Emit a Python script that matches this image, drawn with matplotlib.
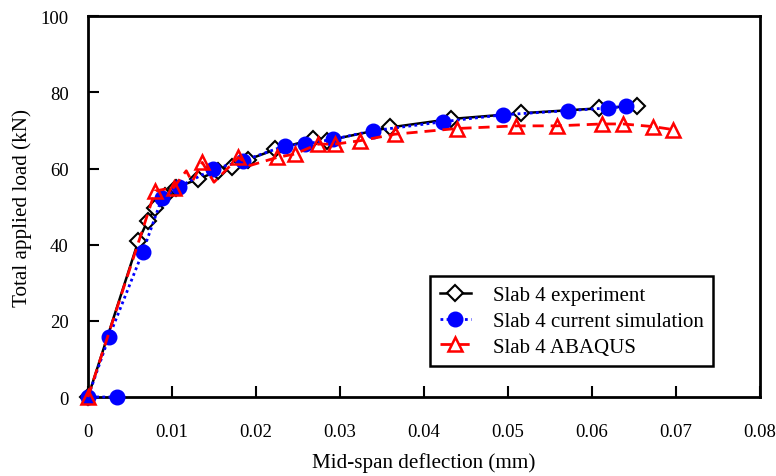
import matplotlib
matplotlib.use("Agg")
import matplotlib.pyplot as plt

# Load-deflection data for Slab 4
exp_x = [0, 0.0060, 0.0071, 0.0080, 0.0092, 0.0105, 0.0131, 0.0155, 0.0172, 0.0190,
         0.0223, 0.0268, 0.0284, 0.0360, 0.0432, 0.0515, 0.0608, 0.0653]
exp_y = [0, 41.0, 46.3, 49.5, 52.8, 55.0, 57.2, 59.4, 60.5, 62.3,
         65.0, 67.7, 67.3, 70.8, 73.0, 74.5, 75.8, 76.5]

sim_x = [0.0035, 0, 0.0025, 0.0065, 0.0088, 0.0108, 0.0149, 0.0184, 0.0235, 0.0258,
         0.0292, 0.0339, 0.0423, 0.0494, 0.0572, 0.0619, 0.0640]
sim_y = [0, 0, 15.8, 38.0, 52.2, 55.2, 59.8, 62.0, 66.0, 66.4,
         67.7, 69.9, 72.3, 74.1, 75.2, 75.9, 76.3]

aba_x = [0, 0.0080, 0.0102, 0.0117, 0.0124, 0.0136, 0.0150, 0.0179, 0.0193, 0.0225,
         0.0246, 0.0274, 0.0294, 0.0324, 0.0365, 0.0439, 0.0510, 0.0558, 0.0612,
         0.0637, 0.0673, 0.0697]
aba_y = [0, 54.1, 55.0, 59.4, 56.5, 61.6, 56.4, 62.9, 60.8, 62.9,
         63.8, 66.4, 66.4, 67.3, 69.0, 70.5, 71.2, 71.2, 71.7,
         71.7, 71.0, 70.2]
aba_marked = [0, 1, 2, 5, 7, 9, 10, 11, 12, 13, 14, 15, 16, 17, 18, 19, 20, 21]

x_ticks = [0, 0.01, 0.02, 0.03, 0.04, 0.05, 0.06, 0.07, 0.08]
x_tick_labels = ["0", "0.01", "0.02", "0.03", "0.04", "0.05", "0.06", "0.07", "0.08"]
y_ticks = [0, 20, 40, 60, 80, 100]

plt.rcParams["font.family"] = ["Liberation Serif", "DejaVu Serif"]

fig = plt.figure(figsize=(7.76, 4.77), dpi=100)
ax = fig.add_axes([0.1134, 0.1656, 0.8660, 0.7984])

ax.plot(exp_x, exp_y, color="black", lw=1.8, ls="-", marker="D", ms=8,
        mfc="white", mec="black", mew=1.5, label="Slab 4 experiment", zorder=3)
ax.plot(sim_x, sim_y, color="blue", lw=2, ls=(0, (1, 1.2)), marker="o", ms=10.5,
        mfc="blue", mec="blue", label="Slab 4 current simulation", zorder=4)
ax.plot(aba_x, aba_y, color="red", lw=2, ls=(0, (4, 2.5)), marker="^", ms=10,
        mfc="none", mec="red", mew=1.8, markevery=aba_marked,
        label="Slab 4 ABAQUS", zorder=5)

ax.set_xlim(0, 0.08)
ax.set_ylim(0, 100)
ax.set_xticks(x_ticks)
ax.set_xticklabels(x_tick_labels)
ax.set_yticks(y_ticks)
ax.tick_params(direction="in", length=8, width=1.5, labelsize=13.5)
ax.tick_params(axis="x", pad=19)
ax.tick_params(axis="y", pad=14)
for s in ax.spines.values():
    s.set_linewidth(2)

ax.set_xlabel("Mid-span deflection (mm)", fontsize=15.2, labelpad=8.5)
ax.set_ylabel("Total applied load (kN)", fontsize=15.2, labelpad=6)

leg = ax.legend(loc="lower right", bbox_to_anchor=(0.930, 0.081), fontsize=15,
                frameon=True, fancybox=False, edgecolor="black", framealpha=1,
                handlelength=1.5, borderpad=0.45, labelspacing=0.3,
                handletextpad=1.05, borderaxespad=0)
leg.get_frame().set_linewidth(1.8)

for line in ax.get_lines():
    line.set_clip_on(False)

fig.savefig("out.png", dpi=100)
